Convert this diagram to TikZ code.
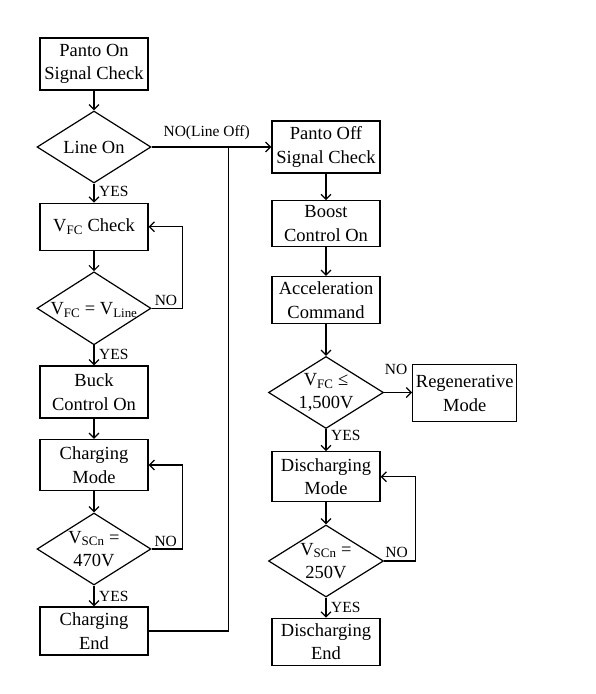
\documentclass[tikz,border=0pt]{standalone}
\usepackage{fontspec}
\setmainfont{Liberation Serif}
\usetikzlibrary{shapes.geometric,arrows.meta}
\begin{document}
\begin{tikzpicture}[x=1pt,y=-1pt,
 box/.style={draw,line width=1.2pt,minimum width=108pt,inner sep=0pt,align=center,font=\fontsize{18.5}{23.5}\selectfont},
 dia/.style={draw,diamond,line width=1.2pt,minimum width=114pt,minimum height=72pt,inner sep=0pt},
 dtext/.style={align=center,inner sep=0pt,font=\fontsize{18.5}{23.5}\selectfont},
 lab/.style={font=\fontsize{15.5}{17}\selectfont,inner sep=0pt},
 arr/.style={line width=1.2pt,-{Straight Barb[length=5pt,width=10pt]}},
 ln/.style={line width=1.2pt}]
\useasboundingbox (0,0) rectangle (596,694);
% left column
\node[box,minimum height=52pt] (b1) at (94,64) {Panto On\\Signal Check};
\node[dia] (d1) at (94,147) {};
\node[dtext] (t1) at (d1) {Line On};
\node[box,minimum height=47pt] (b2) at (94,226.7) {V\textsubscript{FC} Check};
\node[dia,minimum height=73pt] (d2) at (94,308.3) {};
\node[dtext] (t2) at (94,310) {V\textsubscript{FC} = V\textsubscript{Line}};
\node[box,minimum height=52pt] (b3) at (94,392) {Buck\\Control On};
\node[box,minimum height=51pt] (b4) at (94,465) {Charging\\Mode};
\node[dia] (d3) at (94,549) {};
\node[dtext] (t3) at (d3) {V\textsubscript{SCn} =\\470V};
\node[box,minimum height=48pt] (b5) at (94,631) {Charging\\End};
% right column
\node[box,minimum height=52pt] (b6) at (326,147) {Panto Off\\Signal Check};
\node[box,minimum height=46pt] (b7) at (326,223.7) {Boost\\Control On};
\node[box,minimum height=47pt] (b8) at (326,300) {Acceleration\\Command};
\node[dia,minimum width=115pt] (d4) at (326,392.5) {};
\node[dtext] (t4) at (d4) {V\textsubscript{FC} ≤\\1,500V};
\node[box,minimum width=104pt,minimum height=57pt] (b9) at (464.7,393.3) {Regenerative\\Mode};
\node[box,minimum height=50pt] (b10) at (326,476.7) {Discharging\\Mode};
\node[dia,minimum width=115pt] (d5) at (326,561) {};
\node[dtext] (t5) at (d5) {V\textsubscript{SCn} =\\250V};
\node[box,minimum height=47pt] (b11) at (326,641.7) {Discharging\\End};
\coordinate (j) at (228.3,147);
% connectors
\draw[arr] (b1) -- (d1);
\draw[arr] (d1) -- (b2);
\draw[arr] (b2) -- (d2);
\draw[arr] (d2.east) -- ++(31,0) |- (b2.east);
\draw[arr] (d2) -- (b3);
\draw[arr] (b3) -- (b4);
\draw[arr] (b4) -- (d3);
\draw[arr] (d3.east) -- ++(31,0) |- (b4.east);
\draw[arr] (d3) -- (b5);
\draw[ln] (b5.east) -| (j);
\draw[arr] (d1.east) -- (b6.west);
\draw[arr] (b6) -- (b7);
\draw[arr] (b7) -- (b8);
\draw[arr] (b8) -- (d4);
\draw[arr] (d4.east) -- (b9.west |- d4.east);
\draw[arr] (d4) -- (b10);
\draw[arr] (b10) -- (d5);
\draw[arr] (d5.east) -- ++(31,0) |- (b10.east);
\draw[arr] (d5) -- (b11);
% labels
\node[lab,anchor=west] (y1) at (99,191) {YES};
\node[lab,anchor=west] (y2) at (99,354.5) {YES};
\node[lab,anchor=west] (y3) at (99,596.5) {YES};
\node[lab,anchor=west] (y4) at (331,435.5) {YES};
\node[lab,anchor=west] (y5) at (331,607.5) {YES};
\node[lab] (n1) at (206.7,132.5) {NO(Line Off)};
\node[lab] (n2) at (166,300.5) {NO};
\node[lab] (n3) at (165.7,541) {NO};
\node[lab] (n4) at (396,369.5) {NO};
\node[lab] (n5) at (396.5,552.5) {NO};
\end{tikzpicture}
\end{document}
